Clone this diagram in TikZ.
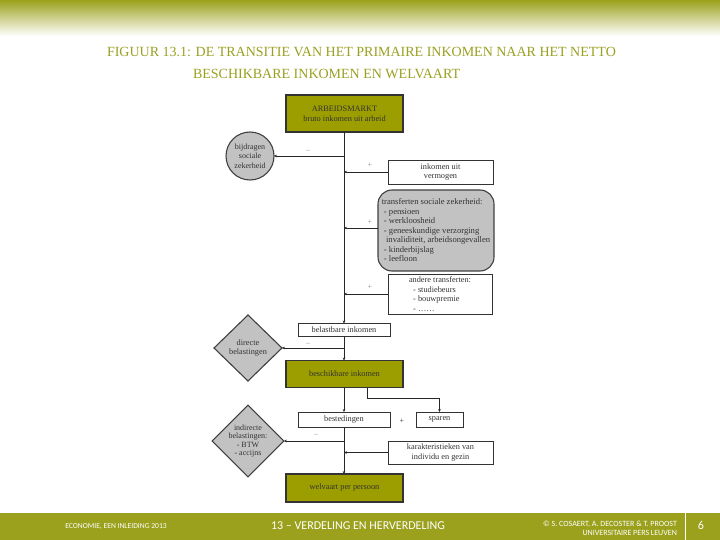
\documentclass[tikz,border=0pt]{standalone}
\usepackage{fontspec}
\setmainfont{Liberation Serif}
\newfontfamily\footfont{Carlito}
\usetikzlibrary{shapes.geometric,arrows.meta}
\definecolor{olive}{HTML}{9BA11C}
\definecolor{boxolive}{HTML}{9C9E00}
\definecolor{titleolive}{HTML}{9AA020}
\definecolor{grayfill}{HTML}{C2C2C2}
\tikzset{
  every node/.style={inner sep=0pt,outer sep=0pt,font=\fontsize{8.3}{9.6}\selectfont,text=black!80},
  whitebox/.style={draw=black!80,line width=0.7pt,fill=white,align=center},
  olivebox/.style={draw=black!80,line width=1.5pt,fill=boxolive,align=center,minimum width=117pt},
  grayshape/.style={draw=black!75,line width=1.1pt,fill=grayfill,align=center},
  conn/.style={draw=black!85,line width=0.7pt,-{Stealth[length=3pt,width=2.6pt]}},
  sign/.style={font=\fontsize{8}{9}\selectfont,text=black!45},
  foot/.style={text=white},
}
\begin{document}
\begin{tikzpicture}[x=1pt,y=-1pt]
\useasboundingbox (0,0) rectangle (720,540);
% top gradient
\shade[top color=olive,bottom color=white] (0,0) rectangle (720,36);
% title
\node[anchor=west,text=titleolive,font=\fontsize{14}{16}\selectfont] (t1) at (107,52) {FIGUUR 13.1: DE TRANSITIE VAN HET PRIMAIRE INKOMEN NAAR HET NETTO};
\node[anchor=west,text=titleolive,font=\fontsize{14}{16}\selectfont] (t2) at (193,74) {BESCHIKBARE INKOMEN EN WELVAART};
% nodes
\node[olivebox,minimum height=37pt] (arb) at (344.5,113.5) {ARBEIDSMARKT\\bruto inkomen uit arbeid};
\node[grayshape,circle,minimum size=48pt,font=\fontsize{8}{9.6}\selectfont] (bsz) at (250,156) {bijdragen\\sociale\\zekerheid};
\node[whitebox,minimum width=105pt,minimum height=24pt] (iuv) at (440.5,172) {inkomen uit\\vermogen};
\node[grayshape,rounded corners=14pt,minimum width=116pt,minimum height=81pt,align=left,font=\fontsize{8.6}{9.5}\selectfont] (tsz) at (436,230.5) {transferten sociale zekerheid:\\
\ - pensioen\\ \ - werkloosheid\\ \ - geneeskundige verzorging\\ \ \ invaliditeit, arbeidsongevallen\\ \ - kinderbijslag\\ \ - leefloon};
\node[whitebox,minimum width=104pt,minimum height=40pt,align=left,font=\fontsize{8.3}{9.6}\selectfont] (at) at (440,294) {andere transferten:\\ \ \ - studiebeurs\\ \ \ - bouwpremie\\ \ \ - \dots\dots};
\node[whitebox,minimum width=92pt,minimum height=13pt] (bel) at (344,330) {belastbare inkomen};
\node[grayshape,diamond,minimum width=68pt,minimum height=66pt,aspect=1] (dir) at (248,348) {directe\\belastingen};
\node[olivebox,minimum height=27pt] (besch) at (344.5,374) {beschikbare inkomen};
\node[whitebox,minimum width=92pt,minimum height=15pt] (best) at (344,419.5) {bestedingen};
\node[whitebox,minimum width=47pt,minimum height=15pt] (sp) at (439.5,419.5) {sparen};
\node[grayshape,diamond,minimum width=68pt,minimum height=62pt,aspect=1,font=\fontsize{8}{8.6}\selectfont] (ind) at (248,441) {indirecte\\belastingen:\\- BTW\\- accijns};
\node[whitebox,minimum width=105pt,minimum height=23pt] (kar) at (440.5,452.5) {karakteristieken van\\individu en gezin};
\node[olivebox,minimum height=28pt] (welv) at (344.5,488) {welvaart per persoon};
% main line
\coordinate (m1) at (344,156);
\coordinate (m2) at (344,172);
\coordinate (m3) at (344,228);
\coordinate (m4) at (344,294);
\coordinate (m5) at (344,348);
\coordinate (m6) at (344,441);
\coordinate (m7) at (344,452.5);
\draw[conn] (arb.south -| m1) -- (bel.north);
\draw[conn] (bel.south) -- (besch.north -| bel.south);
\draw[conn] (besch.south -| m1) -- (best.north);
\draw[conn] (best.south) -- (welv.north -| best.south);
\draw[conn] (m1) -- (bsz.east);
\draw[conn] (iuv.west) -- (m2);
\draw[conn] (tsz.west |- m3) -- (m3);
\draw[conn] (at.west) -- (m4);
\draw[conn] (m5) -- (dir.east);
\draw[conn] (m6) -- (ind.east);
\draw[conn] (kar.west) -- (m7);
\coordinate (s1) at (367,398);
\draw[conn] (besch.south -| s1) -- (s1) -| (sp.north);
% signs
\node[sign] (g1) at (308,151) {–};
\node[sign] (g2) at (370,165) {+};
\node[sign] (g3) at (370,222) {+};
\node[sign] (g4) at (370,287) {+};
\node[sign] (g5) at (308,344) {–};
\node[sign,text=black!80] (g6) at (402,421) {+};
\node[sign] (g7) at (316,435) {–};
% footer
\fill[olive] (0,513) rectangle (720,540);
\draw[white,line width=1pt] (685,513) -- (685,540);
\node[foot,font=\footfont\fontsize{7.6}{9}\selectfont] (f1) at (116,527) {ECONOMIE, EEN INLEIDING 2013};
\node[foot,font=\footfont\fontsize{12}{14}\selectfont] (f2) at (358,526) {13 – VERDELING EN HERVERDELING};
\node[foot,anchor=east,align=right,font=\footfont\fontsize{8}{9}\selectfont] (f3) at (677,528) {© S. COSAERT, A. DECOSTER \& T. PROOST\\UNIVERSITAIRE PERS LEUVEN};
\node[foot,font=\footfont\fontsize{12}{14}\selectfont] (f4) at (701,525) {6};
\end{tikzpicture}
\end{document}
